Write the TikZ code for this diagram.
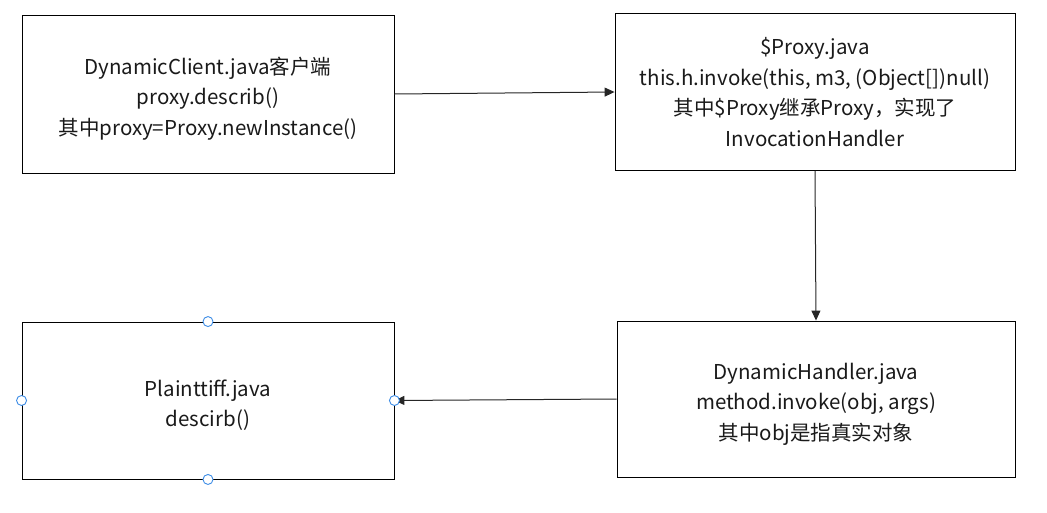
\documentclass[tikz,border=0pt]{standalone}
\usepackage{fontspec}
\setmainfont{Noto Sans CJK SC}
\usetikzlibrary{arrows.meta}
\definecolor{txt}{HTML}{1A1A1A}
\definecolor{handle}{HTML}{3C8CE6}
\newcommand{\lowerstrut}{\rule{0pt}{26pt}}
\tikzset{
  box/.style={draw=black, line width=0.9pt, fill=white, align=center, text=txt,
    font=\fontsize{20.5}{30.5}\selectfont, inner sep=0pt},
  conn/.style={draw=black!85, line width=1pt, -{Triangle[length=10pt,width=9pt]}},
  handlept/.style={circle, draw=handle, fill=white, line width=0.9pt, minimum size=10pt, inner sep=0pt}
}
\begin{document}
\begin{tikzpicture}[x=1pt,y=-1pt]
\useasboundingbox (0,0) rectangle (1047,512);
\node[box, minimum width=372pt, minimum height=158pt] (client) at (208,94)
  {\lowerstrut DynamicClient.java客户端\\proxy.describ()\\其中proxy=Proxy.newInstance()};
\node[box, minimum width=400pt, minimum height=157pt] (proxy) at (815,92)
  {\$Proxy.java\\this.h.invoke(this, m3, (Object[])null)\\其中\$Proxy继承Proxy，实现了\\InvocationHandler};
\node[box, minimum width=398pt, minimum height=156pt] (handler) at (816,399)
  {\lowerstrut DynamicHandler.java\\method.invoke(obj, args)\\其中obj是指真实对象};
\node[box, minimum width=372pt, minimum height=157pt] (plain) at (208,400.5)
  {\lowerstrut Plainttiff.java\\descirb()};
\draw[conn] (client.east) -- (proxy.west);
\draw[conn] (proxy.south) -- (handler.north);
\draw[conn] (handler.west) -- (plain.east);
\node[handlept] (hn) at (plain.north) {};
\node[handlept] (hs) at (plain.south) {};
\node[handlept] (hw) at (plain.west) {};
\node[handlept] (he) at (plain.east) {};
\end{tikzpicture}
\end{document}
